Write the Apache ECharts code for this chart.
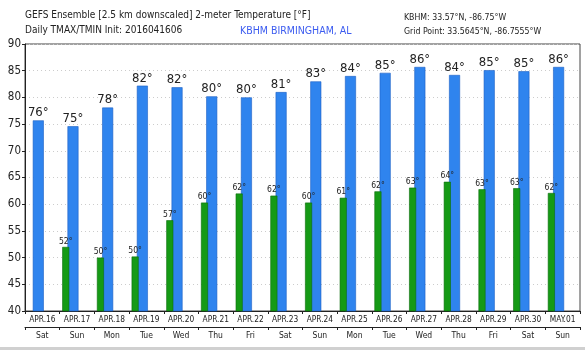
<!DOCTYPE html>
<html>
<head>
<meta charset="utf-8">
<script src="https://cdn.jsdelivr.net/npm/echarts@6/dist/echarts.min.js"></script>
<style>
  html, body { margin: 0; padding: 0; background: #fff; }
  #chart { width: 585px; height: 350px; }
</style>
</head>
<body>
<div id="chart"></div>
<script>
const dates = ['APR.16', 'APR.17', 'APR.18', 'APR.19', 'APR.20', 'APR.21', 'APR.22', 'APR.23',
  'APR.24', 'APR.25', 'APR.26', 'APR.27', 'APR.28', 'APR.29', 'APR.30', 'MAY.01'];
const days = ['Sat', 'Sun', 'Mon', 'Tue', 'Wed', 'Thu', 'Fri', 'Sat',
  'Sun', 'Mon', 'Tue', 'Wed', 'Thu', 'Fri', 'Sat', 'Sun'];
// daily max (day) and min (night, plotted between days)
const tmax = [75.7, 74.6, 78.1, 82.2, 81.9, 80.2, 80.0, 81.0, 83.0, 84.0, 84.6, 85.7, 84.2, 85.1, 84.9, 85.7];
const tmin = [52.0, 50.0, 50.2, 57.0, 60.3, 62.0, 61.6, 60.3, 61.2, 62.4, 63.1, 64.2, 62.8, 63.0, 62.1];
const yTicks = [40, 45, 50, 55, 60, 65, 70, 75, 80, 85, 90];

const font = '"Liberation Sans Narrow", "DejaVu Sans Condensed", sans-serif';
const chart = echarts.init(document.getElementById('chart'));

const txt = (size, color) => ({ fontSize: size, fontWeight: 'normal', color: color || '#222', fontFamily: font });

const option = {
  animation: false,
  backgroundColor: '#fff',
  title: [
    { text: 'GEFS Ensemble [2.5 km downscaled] 2-meter Temperature [°F]', left: 25, top: 10, padding: 0,
      textStyle: txt(10) },
    { text: 'Daily TMAX/TMIN Init: 2016041606', left: 25, top: 25.5, padding: 0, textStyle: txt(10) },
    { text: 'KBHM BIRMINGHAM, AL', left: 240, top: 25.5, padding: 0, textStyle: txt(10.5, '#3c5cf0') },
    { text: 'KBHM: 33.57°N, -86.75°W', left: 404, top: 13, padding: 0, textStyle: txt(8.7) },
    { text: 'Grid Point: 33.5645°N, -86.7555°W', left: 404, top: 27, padding: 0, textStyle: txt(8.7) }
  ],
  grid: { left: 25, right: 5, top: 44, bottom: 39, show: true, borderColor: '#444', borderWidth: 1 },
  xAxis: [
    {
      type: 'value', min: 0, max: 16, interval: 1,
      axisLine: { show: true, lineStyle: { color: '#222' } },
      axisTick: { show: true, length: 3, lineStyle: { color: '#222' } },
      axisLabel: { show: false },
      splitLine: { show: false }
    },
    {
      type: 'category', data: dates, position: 'bottom', boundaryGap: true,
      axisLine: { show: false }, axisTick: { show: false },
      axisLabel: Object.assign({ interval: 0, margin: 5 }, txt(8.3))
    },
    {
      type: 'category', data: days, position: 'bottom', offset: 16, boundaryGap: true,
      axisLine: { show: true, lineStyle: { color: '#222' } },
      axisTick: { show: true, length: 3, lineStyle: { color: '#222' } },
      axisLabel: Object.assign({ interval: 0, margin: 4 }, txt(8.5))
    }
  ],
  yAxis: {
    type: 'value', min: yTicks[0], max: yTicks[yTicks.length - 1], interval: 5,
    axisLine: { show: true, lineStyle: { color: '#222' } },
    axisTick: { show: true, length: 3, lineStyle: { color: '#222' } },
    axisLabel: Object.assign({ margin: 4 }, txt(11.5)),
    splitLine: { show: true, lineStyle: { color: '#ccc', type: [1, 3] } }
  },
  series: [
    {
      name: 'TMAX', type: 'bar', xAxisIndex: 0, barWidth: 11,
      data: tmax.map((v, i) => [i + 0.5, v]),
      itemStyle: { color: '#2f84ee', borderColor: '#1c60c4', borderWidth: 0.6 },
      label: Object.assign({
        show: true, position: 'top', distance: 1,
        formatter: p => Math.round(p.value[1]) + '°'
      }, txt(13))
    },
    {
      name: 'TMIN', type: 'bar', xAxisIndex: 0, barWidth: 7,
      data: tmin.map((v, i) => [i + 1, v]),
      itemStyle: { color: '#159a15', borderColor: '#0b6b0b', borderWidth: 0.6 },
      label: Object.assign({
        show: true, position: 'top', distance: 1,
        formatter: p => Math.round(p.value[1]) + '°'
      }, txt(8.5))
    }
  ],
  graphic: [
    { type: 'rect', left: 0, top: 347, shape: { width: 585, height: 3 }, style: { fill: '#d0d0d0' } }
  ]
};

chart.setOption(option);
</script>
</body>
</html>
